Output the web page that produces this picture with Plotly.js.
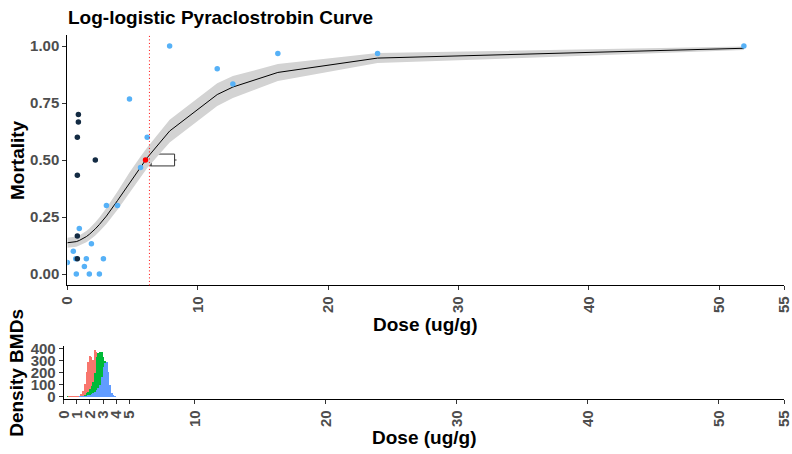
<!DOCTYPE html>
<html>
<head>
<meta charset="utf-8">
<script src="https://cdn.plot.ly/plotly-3.0.1.min.js"></script>
<style>html,body{margin:0;padding:0;background:#fff;}#chart{width:792px;height:454px;}</style>
</head>
<body>
<div id="chart"></div>
<script>
// ---- observed points (two colour groups) ----
const doseLight = [0.0, 0.46, 0.65, 0.69, 0.92, 1.31, 1.46, 1.69, 1.85, 2.46, 2.77, 3.0, 3.85, 4.77, 5.62, 6.13, 7.85, 11.5, 12.7, 16.15, 23.8, 51.9];
const mortLight = [0.05, 0.10, 0.067, 0.0, 0.20, 0.033, 0.067, 0.0, 0.133, 0.0, 0.067, 0.30, 0.30, 0.767, 0.467, 0.60, 1.0, 0.90, 0.833, 0.967, 0.967, 1.0];
const doseDark = [0.85, 0.85, 0.77, 2.15, 0.77, 0.77, 0.77];
const mortDark = [0.70, 0.667, 0.60, 0.50, 0.433, 0.167, 0.067];

// ---- fitted curve and confidence band ----
const curveDose = [0, 0.46, 0.69, 0.92, 1.31, 1.46, 1.69, 1.85, 2.15, 2.46, 2.77, 3.0, 3.85, 4.77, 5.62, 6.13, 7.85, 11.5, 12.7, 16.15, 23.8, 51.9];
const curveFit = [0.137, 0.139, 0.142, 0.147, 0.158, 0.164, 0.174, 0.181, 0.198, 0.217, 0.238, 0.254, 0.322, 0.400, 0.470, 0.510, 0.627, 0.787, 0.820, 0.884, 0.947, 0.990];
const curveLow = [0.115, 0.117, 0.120, 0.125, 0.134, 0.139, 0.148, 0.154, 0.169, 0.186, 0.205, 0.219, 0.282, 0.355, 0.425, 0.465, 0.577, 0.737, 0.772, 0.847, 0.925, 0.982];
const curveHigh = [0.159, 0.161, 0.164, 0.169, 0.182, 0.189, 0.200, 0.208, 0.227, 0.248, 0.271, 0.289, 0.362, 0.445, 0.515, 0.555, 0.677, 0.837, 0.868, 0.921, 0.969, 0.998];

// ---- ED50 point, BMD line and BMD box ----
const ed50Dose = [6.0];
const ed50Mort = [0.5];
const bmd = 6.3;
const bmdBoxY = [0.5];
const bmdLowerFence = [6.3];
const bmdQ1 = [6.36];
const bmdMedian = [6.36];
const bmdQ3 = [8.23];
const bmdUpperFence = [8.38];

// ---- BMD density histogram (stacked counts) ----
const binCenters = [0.30,0.43,0.56,0.69,0.82,0.95,1.08,1.21,1.34,1.47,1.60,1.73,1.86,1.99,2.12,2.25,2.38,2.51,2.64,2.77,2.90,3.03,3.16,3.29,3.42,3.55,3.68,3.81,3.94];
const countsBlue  = [0,0,2,3,3,3,3,4,4,5,8,10,15,20,25,30,45,60,75,100,162,250,277,285,205,100,35,15,4];
const countsGreen = [5,2,0,0,0,0,0,0,2,5,12,20,30,45,65,90,150,270,285,270,210,80,20,5,0,0,0,0,0];
const countsRed   = [0,3,3,3,3,4,5,8,22,40,85,175,240,270,240,180,190,40,0,0,0,0,0,0,0,0,0,0,0];
const binWidth = 0.13;

// ---- ticks ----
const xTicksMain = [0,10,20,30,40,50,55];
const xTicksBottom = [0,1,2,3,4,5,10,20,30,40,50,55];
const yTicksMain = [0,0.25,0.5,0.75,1];
const yTickTextMain = ['0.00','0.25','0.50','0.75','1.00'];
const yTicksBottom = [0,100,200,300,400];

const W = 792, H = 454;
const FONT = 'Liberation Sans, Arial, sans-serif';
const tickFont = {family: FONT, size: 15, color: '#4D4D4D', weight: 'bold'};
const titleFont = {family: FONT, size: 19, color: '#000000', weight: 'bold'};

const traces = [
  {x: curveDose, y: curveLow, mode: 'lines', line: {width: 0, color: 'rgba(0,0,0,0)'}, hoverinfo: 'skip', xaxis: 'x', yaxis: 'y'},
  {x: curveDose, y: curveHigh, mode: 'lines', fill: 'tonexty', fillcolor: 'rgb(211,211,211)', line: {width: 0, color: 'rgba(0,0,0,0)'}, hoverinfo: 'skip', xaxis: 'x', yaxis: 'y'},
  {x: curveDose, y: curveFit, mode: 'lines', line: {color: '#000000', width: 1}, xaxis: 'x', yaxis: 'y'},
  {x: doseLight, y: mortLight, mode: 'markers', marker: {color: '#56B1F7', size: 5.5}, xaxis: 'x', yaxis: 'y'},
  {x: doseDark, y: mortDark, mode: 'markers', marker: {color: '#132B43', size: 5.5}, xaxis: 'x', yaxis: 'y'},
  {x: ed50Dose, y: ed50Mort, mode: 'markers', marker: {color: '#FF0000', size: 5.5}, xaxis: 'x', yaxis: 'y'},
  {type: 'box', orientation: 'h', y: bmdBoxY, lowerfence: bmdLowerFence, q1: bmdQ1, median: bmdMedian, q3: bmdQ3, upperfence: bmdUpperFence,
   width: 0.052, fillcolor: '#FFFFFF', line: {color: '#333333', width: 1}, whiskerwidth: 0, boxpoints: false, xaxis: 'x', yaxis: 'y', hoverinfo: 'skip'},
  {type: 'bar', x: binCenters, y: countsBlue, width: binWidth, marker: {color: '#619CFF', line: {width: 0}}, xaxis: 'x2', yaxis: 'y2'},
  {type: 'bar', x: binCenters, y: countsGreen, width: binWidth, marker: {color: '#00BA38', line: {width: 0}}, xaxis: 'x2', yaxis: 'y2'},
  {type: 'bar', x: binCenters, y: countsRed, width: binWidth, marker: {color: '#F8766D', line: {width: 0}}, xaxis: 'x2', yaxis: 'y2'}
];

const axisCommon = {
  showline: true, linecolor: '#000000', linewidth: 1, showgrid: false, zeroline: false,
  ticks: 'outside', ticklen: 4, tickwidth: 1, tickcolor: '#333333', tickfont: tickFont, fixedrange: true,
  ticklabeloverflow: 'allow'
};

const layout = {
  width: W, height: H,
  margin: {l: 0, r: 0, t: 0, b: 0, pad: 0},
  paper_bgcolor: '#FFFFFF', plot_bgcolor: '#FFFFFF',
  showlegend: false, barmode: 'stack', bargap: 0,
  font: {family: FONT},
  title: {text: 'Log-logistic Pyraclostrobin Curve', font: {family: FONT, size: 19, color: '#000000', weight: 'bold'},
          x: 68 / W, xanchor: 'left', xref: 'paper', y: 1 - 17 / H, yanchor: 'middle', yref: 'container'},
  xaxis: Object.assign({}, axisCommon, {domain: [67.3 / W, 784.3 / W], range: [0, 55.0001], tickmode: 'array', tickvals: xTicksMain, tickangle: -90, anchor: 'y'}),
  yaxis: Object.assign({}, axisCommon, {domain: [1 - 285.4 / H, 1 - 34.6 / H], range: [-0.05, 1.05], tickmode: 'array', tickvals: yTicksMain, ticktext: yTickTextMain, anchor: 'x'}),
  xaxis2: Object.assign({}, axisCommon, {domain: [63.7 / W, 784.3 / W], range: [0, 55.0001], tickmode: 'array', tickvals: xTicksBottom, tickangle: -90, anchor: 'y2'}),
  yaxis2: Object.assign({}, axisCommon, {domain: [1 - 399.4 / H, 1 - 346.2 / H], range: [-19.85, 416.9], tickmode: 'array', tickvals: yTicksBottom, anchor: 'x2'}),
  shapes: [
    {type: 'line', xref: 'x', yref: 'y domain', x0: bmd, x1: bmd, y0: 0, y1: 1, line: {color: '#FF0000', width: 1, dash: '1px,2.5px'}, layer: 'above'}
  ],
  annotations: [
    {text: 'Dose (ug/g)', xref: 'paper', yref: 'paper', x: 425.8 / W, y: 1 - 324 / H, xanchor: 'center', yanchor: 'middle', showarrow: false, font: titleFont},
    {text: 'Dose (ug/g)', xref: 'paper', yref: 'paper', x: 424 / W, y: 1 - 437 / H, xanchor: 'center', yanchor: 'middle', showarrow: false, font: titleFont},
    {text: 'Mortality', xref: 'paper', yref: 'paper', x: 17 / W, y: 1 - 160 / H, xanchor: 'center', yanchor: 'middle', textangle: -90, showarrow: false, font: titleFont},
    {text: 'Density BMDs', xref: 'paper', yref: 'paper', x: 17 / W, y: 1 - 372.8 / H, xanchor: 'center', yanchor: 'middle', textangle: -90, showarrow: false, font: titleFont}
  ]
};

Plotly.newPlot('chart', traces, layout, {staticPlot: true, displayModeBar: false});
</script>
</body>
</html>
